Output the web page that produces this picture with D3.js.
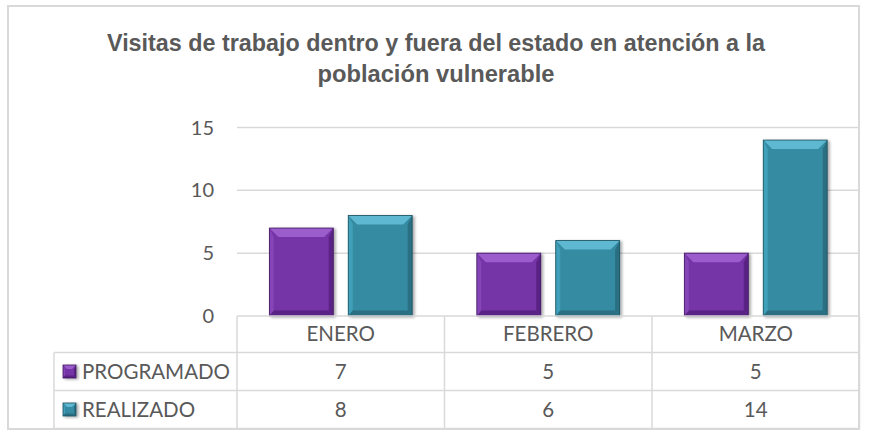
<!DOCTYPE html>
<html><head><meta charset="utf-8">
<script src="https://cdn.jsdelivr.net/npm/d3@7"></script>
<style>html,body{margin:0;padding:0;background:#fff;} svg{display:block;}</style>
</head><body>
<svg id="c" width="873" height="439"></svg>
<script>
const categories = ["ENERO", "FEBRERO", "MARZO"];
const seriesNames = ["PROGRAMADO", "REALIZADO"];
const programado = [7, 5, 5];
const realizado = [8, 6, 14];
const yTicks = [0, 5, 10, 15];
const titleLines = ["Visitas de trabajo dentro y fuera del estado en atención  a la", "población vulnerable"];

(function () {
const seriesValues = [programado, realizado];
const palette = {
  PROGRAMADO: {face: "#7534a7", light: "#9a5dcb", mid: "#8444b6", dark: "#5a2384", edge: "#3f1760"},
  REALIZADO:  {face: "#358ba1", light: "#5fb8d2", mid: "#41a0b9", dark: "#2a6f82", edge: "#1c4f5d"}
};

const svg = d3.select("#c");
const txt = "#595959", grid = "#d9d9d9";
const font = "Lato, 'Open Sans', sans-serif";

svg.append("rect").attr("x", 8).attr("y", 6).attr("width", 851).attr("height", 423)
  .attr("fill", "#fff").attr("stroke", grid).attr("stroke-width", 2);

svg.selectAll("text.title").data(titleLines).join("text")
  .attr("class", "title")
  .attr("x", 436).attr("y", (d, i) => 51 + i * 31)
  .attr("text-anchor", "middle")
  .attr("font-family", "'Liberation Sans Narrow', 'Arial Narrow', 'Liberation Sans', Arial, sans-serif")
  .attr("font-weight", "bold").attr("font-size", 23).attr("fill", txt)
  .attr("textLength", (d, i) => i === 0 ? 658 : 237)
  .attr("lengthAdjust", "spacingAndGlyphs")
  .text(d => d);

const pLeft = 237, pRight = 859.5, pTop = 127.5, pBottom = 316;
const x0 = d3.scaleBand().domain(categories).range([pLeft, pRight]).padding(0);
const x1 = d3.scaleBand().domain(seriesNames).range([0, x0.bandwidth()]).paddingInner(0.19).paddingOuter(0.41);
const y = d3.scaleLinear().domain([0, 15]).range([pBottom, pTop]);

svg.append("g").selectAll("line").data(yTicks.filter(t => t > 0)).join("line")
  .attr("x1", pLeft).attr("x2", pRight).attr("y1", d => y(d)).attr("y2", d => y(d))
  .attr("stroke", grid).attr("stroke-width", 1.5);

svg.append("g").selectAll("text").data(yTicks).join("text")
  .attr("x", 214).attr("y", d => y(d)).attr("dy", "0.35em")
  .attr("text-anchor", "end").attr("font-family", font).attr("font-size", 20).attr("fill", txt)
  .text(d => d);

const defs = svg.append("defs");
const f = defs.append("filter").attr("id", "sh").attr("x", "-20%").attr("y", "-20%").attr("width", "150%").attr("height", "150%");
f.append("feGaussianBlur").attr("in", "SourceAlpha").attr("stdDeviation", 1.5);
f.append("feOffset").attr("dx", 2).attr("dy", 1).attr("result", "o");
f.append("feComponentTransfer").append("feFuncA").attr("type", "linear").attr("slope", 0.35);
const fm = f.append("feMerge"); fm.append("feMergeNode"); fm.append("feMergeNode").attr("in", "SourceGraphic");

function bevelBox(g, x, yTop, w, h, c, b) {
  const gg = g.append("g").attr("filter", "url(#sh)");
  gg.append("rect").attr("x", x).attr("y", yTop).attr("width", w).attr("height", h).attr("fill", c.face);
  const x2 = x + w, y2 = yTop + h;
  const poly = (pts, fill) => gg.append("polygon").attr("points", pts.map(p => p.join(",")).join(" ")).attr("fill", fill);
  poly([[x, yTop], [x2, yTop], [x2 - b, yTop + b], [x + b, yTop + b]], c.light);
  poly([[x, yTop], [x + b * 0.5, yTop + b], [x + b * 0.5, y2 - b * 0.6], [x, y2]], c.mid);
  poly([[x2, yTop], [x2, y2], [x2 - b * 0.5, y2 - b * 0.6], [x2 - b * 0.5, yTop + b]], c.dark);
  poly([[x, y2], [x + b * 0.5, y2 - b * 0.6], [x2 - b * 0.5, y2 - b * 0.6], [x2, y2]], c.dark);
  gg.append("rect").attr("x", x).attr("y", yTop).attr("width", w).attr("height", h)
    .attr("fill", "none").attr("stroke", c.edge).attr("stroke-width", 0.8);
}

const barG = svg.append("g");
categories.forEach((cat, ci) => {
  seriesNames.forEach((s, si) => {
    const v = seriesValues[si][ci];
    const bx = x0(cat) + x1(s);
    bevelBox(barG, bx, y(v), x1.bandwidth(), y(0) - y(v), palette[s], 9);
  });
});

const legLeft = 54;
const rowTops = [316, 352.5, 390.5, 428.5];
const tb = svg.append("g");
const ln = (ax, ay, bx, by) => tb.append("line").attr("x1", ax).attr("y1", ay).attr("x2", bx).attr("y2", by)
  .attr("stroke", grid).attr("stroke-width", 1.5);
ln(pLeft, rowTops[0], pRight, rowTops[0]);
ln(legLeft, rowTops[1], pRight, rowTops[1]);
ln(legLeft, rowTops[2], pRight, rowTops[2]);
ln(legLeft, rowTops[3], pRight, rowTops[3]);
ln(legLeft, rowTops[1], legLeft, rowTops[3]);
categories.forEach(c => ln(x0(c), rowTops[0], x0(c), rowTops[3]));
ln(pRight, rowTops[0], pRight, rowTops[3]);

const fs = 20.5;
tb.selectAll("text.cat").data(categories).join("text").attr("class", "cat")
  .attr("x", d => x0(d) + x0.bandwidth() / 2).attr("y", (rowTops[0] + rowTops[1]) / 2).attr("dy", "0.35em")
  .attr("text-anchor", "middle").attr("font-family", font).attr("font-size", fs).attr("fill", txt).text(d => d);

seriesNames.forEach((s, si) => {
  const cy = (rowTops[si + 1] + rowTops[si + 2]) / 2;
  bevelBox(tb, legLeft + 9, cy - 6.5, 13, 13, palette[s], 4);
  tb.append("text").attr("x", legLeft + 28).attr("y", cy).attr("dy", "0.35em")
    .attr("font-family", font).attr("font-size", fs).attr("fill", txt).text(s);
  tb.selectAll("text.v" + si).data(seriesValues[si]).join("text").attr("class", "v" + si)
    .attr("x", (d, i) => x0(categories[i]) + x0.bandwidth() / 2).attr("y", cy).attr("dy", "0.35em")
    .attr("text-anchor", "middle").attr("font-family", font).attr("font-size", fs).attr("fill", txt).text(d => d);
});
})();
</script>
</body></html>
